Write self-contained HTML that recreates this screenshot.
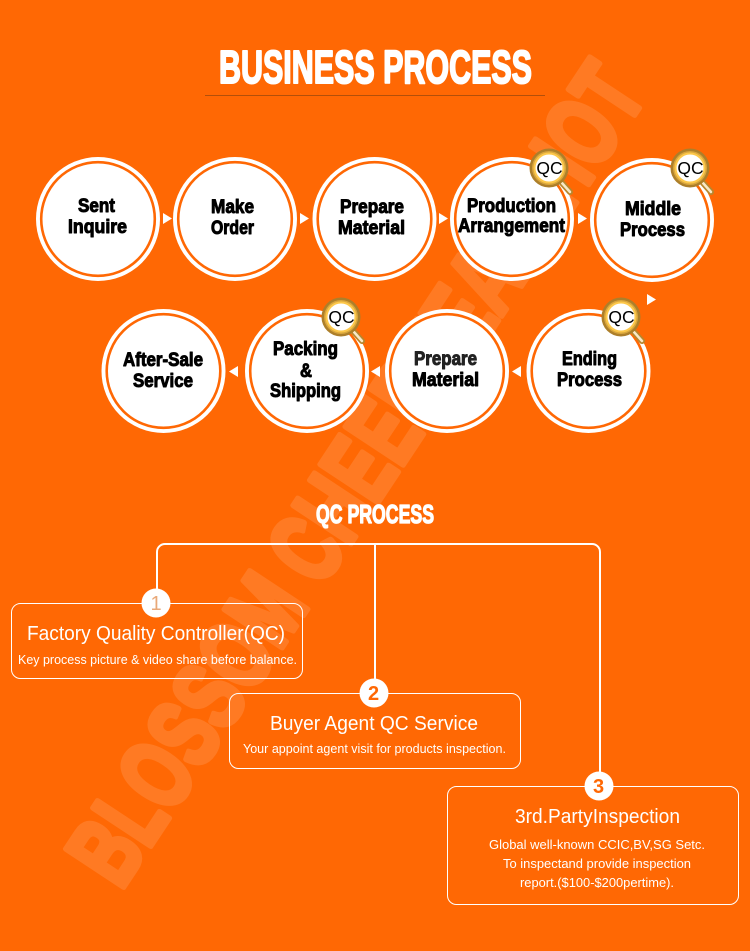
<!DOCTYPE html>
<html><head><meta charset="utf-8"><style>
html,body{margin:0;padding:0;background:#ff6804}
svg{display:block}
text{font-family:"Liberation Sans",sans-serif}
.i{font-weight:700;stroke-linejoin:round}
.l{font-weight:700;font-size:19.5px;fill:#000;stroke:#000;stroke-width:1px;stroke-linejoin:round}
.q{font-size:17.5px;fill:#000;stroke:none}
.n{font-size:20px;font-weight:700;fill:#ff6804}
</style></head><body>
<svg width="750" height="951" viewBox="0 0 750 951" xmlns="http://www.w3.org/2000/svg">
<defs>
<g id="c"><circle r="62" fill="#fff"/><circle r="56.8" fill="#fff" stroke="#ff6804" stroke-width="2.6"/></g>
<g id="m">
<line x1="13" y1="15" x2="21" y2="24" stroke="#b8862d" stroke-width="6" stroke-linecap="round"/>
<line x1="13" y1="15" x2="21" y2="24" stroke="#f7e8c8" stroke-width="2.500" stroke-linecap="round"/>
<circle r="19.5" fill="#ad7f2a"/><circle r="17" fill="#d9a63c"/><circle r="15.500" fill="#fdc84a"/><circle r="13.500" fill="#fff"/>
</g>
</defs>
<rect width="750" height="951" fill="#ff6804"/>
<text class="i" transform="translate(123,893) rotate(-56.5)" x="0" y="-3" font-size="100" textLength="956" lengthAdjust="spacingAndGlyphs" fill="#fff" stroke="#fff" stroke-width="6" opacity=".12">BLOSSOM CHEERTEAM HOT</text>

<text class="i" x="219" y="83" font-size="46" textLength="313" lengthAdjust="spacingAndGlyphs" fill="#fff" stroke="#fff" stroke-width="2">BUSINESS PROCESS</text>
<rect x="205" y="95" width="340" height="1" fill="#b34f0a"/>

<use href="#c" x="98" y="219"/><use href="#c" x="235" y="219"/><use href="#c" x="374.500" y="219"/><use href="#c" x="512" y="219"/><use href="#c" x="652" y="220"/>
<use href="#c" x="163.500" y="371"/><use href="#c" x="307" y="371"/><use href="#c" x="447" y="371"/><use href="#c" x="588.500" y="371"/>

<g fill="#fff">
<path d="M163 213l9 5.500-9 5.500z"/><path d="M300 213l9 5.500-9 5.500z"/><path d="M439 213l9 5.500-9 5.500z"/><path d="M578 213l9 5.500-9 5.500z"/><path d="M647 294l9 5.500-9 5.500z"/>
<path d="M238 366l-9 5.500 9 5.500z"/><path d="M380 366l-9 5.500 9 5.500z"/><path d="M521 366l-9 5.500 9 5.500z"/>
</g>

<text class="l" x="78" y="212" textLength="37" lengthAdjust="spacingAndGlyphs">Sent</text>
<text class="l" x="68" y="233" textLength="59" lengthAdjust="spacingAndGlyphs">Inquire</text>
<text class="l" x="211" y="213" textLength="43" lengthAdjust="spacingAndGlyphs">Make</text>
<text class="l" x="211" y="234" textLength="43" lengthAdjust="spacingAndGlyphs">Order</text>
<text class="l" x="340" y="213" textLength="64" lengthAdjust="spacingAndGlyphs">Prepare</text>
<text class="l" x="338" y="234" textLength="67" lengthAdjust="spacingAndGlyphs">Material</text>
<text class="l" x="467" y="212" textLength="89" lengthAdjust="spacingAndGlyphs">Production</text>
<text class="l" x="458" y="232" textLength="107" lengthAdjust="spacingAndGlyphs">Arrangement</text>
<text class="l" x="625" y="215" textLength="56" lengthAdjust="spacingAndGlyphs">Middle</text>
<text class="l" x="620" y="236" textLength="65" lengthAdjust="spacingAndGlyphs">Process</text>
<text class="l" x="123" y="366" textLength="80" lengthAdjust="spacingAndGlyphs">After-Sale</text>
<text class="l" x="133" y="387" textLength="60" lengthAdjust="spacingAndGlyphs">Service</text>
<text class="l" x="273" y="355" textLength="65" lengthAdjust="spacingAndGlyphs">Packing</text>
<text class="l" x="300" y="377" textLength="12" lengthAdjust="spacingAndGlyphs">&amp;</text>
<text class="l" x="270" y="397" textLength="71" lengthAdjust="spacingAndGlyphs">Shipping</text>
<text class="l" x="414" y="365" textLength="63" lengthAdjust="spacingAndGlyphs" style="fill:#222;stroke:#222">Prepare</text>
<text class="l" x="412" y="386" textLength="67" lengthAdjust="spacingAndGlyphs">Material</text>
<text class="l" x="562" y="365" textLength="55" lengthAdjust="spacingAndGlyphs">Ending</text>
<text class="l" x="557" y="386" textLength="65" lengthAdjust="spacingAndGlyphs">Process</text>

<use href="#m" x="549" y="168"/><use href="#m" x="690" y="168"/><use href="#m" x="341" y="317"/><use href="#m" x="621" y="317"/>
<text class="q" x="549.500" y="174" text-anchor="middle">QC</text>
<text class="q" x="690.500" y="174" text-anchor="middle">QC</text>
<text class="q" x="341.500" y="323" text-anchor="middle">QC</text>
<text class="q" x="621.500" y="323" text-anchor="middle">QC</text>

<text class="i" x="316" y="523" font-size="26" textLength="118" lengthAdjust="spacingAndGlyphs" fill="#fff" stroke="#fff" stroke-width="1.3">QC PROCESS</text>

<g fill="none" stroke="#fff">
<path d="M157 603V552a8 8 0 0 1 8-8H592a8 8 0 0 1 8 8V786" stroke-width="2"/>
<path d="M375 544V693" stroke-width="2"/>
<rect x="11.500" y="603.500" width="291" height="75" rx="9"/>
<rect x="229.500" y="693.500" width="291" height="75" rx="9"/>
<rect x="447.500" y="786.500" width="291" height="118" rx="9"/>
</g>
<circle cx="156" cy="603" r="14.500" fill="#fff"/><circle cx="374" cy="693" r="14.500" fill="#fff"/><circle cx="599" cy="786" r="14.500" fill="#fff"/>
<text class="n" x="156" y="610" text-anchor="middle" style="fill:#e9a878;font-weight:400">1</text>
<text class="n" x="373.500" y="700" text-anchor="middle">2</text>
<text class="n" x="598.500" y="793" text-anchor="middle">3</text>

<text x="27" y="640" font-size="20" fill="#fff" textLength="258" lengthAdjust="spacingAndGlyphs">Factory Quality Controller(QC)</text>
<text x="18" y="664" font-size="13" fill="#fff" textLength="279" lengthAdjust="spacingAndGlyphs">Key process picture &amp; video share before balance.</text>
<text x="270" y="730" font-size="20" fill="#fff" textLength="208" lengthAdjust="spacingAndGlyphs">Buyer Agent QC Service</text>
<text x="243" y="753" font-size="13" fill="#fff" textLength="263" lengthAdjust="spacingAndGlyphs">Your appoint agent visit for products inspection.</text>
<text x="515" y="823" font-size="20" fill="#fff" textLength="165" lengthAdjust="spacingAndGlyphs">3rd.PartyInspection</text>
<text x="489" y="849" font-size="13" fill="#fff" textLength="216" lengthAdjust="spacingAndGlyphs">Global well-known CCIC,BV,SG Setc.</text>
<text x="503" y="868" font-size="13" fill="#fff" textLength="188" lengthAdjust="spacingAndGlyphs">To inspectand provide inspection</text>
<text x="520" y="887" font-size="13" fill="#fff" textLength="154" lengthAdjust="spacingAndGlyphs">report.($100-$200pertime).</text>
</svg>
</body></html>
